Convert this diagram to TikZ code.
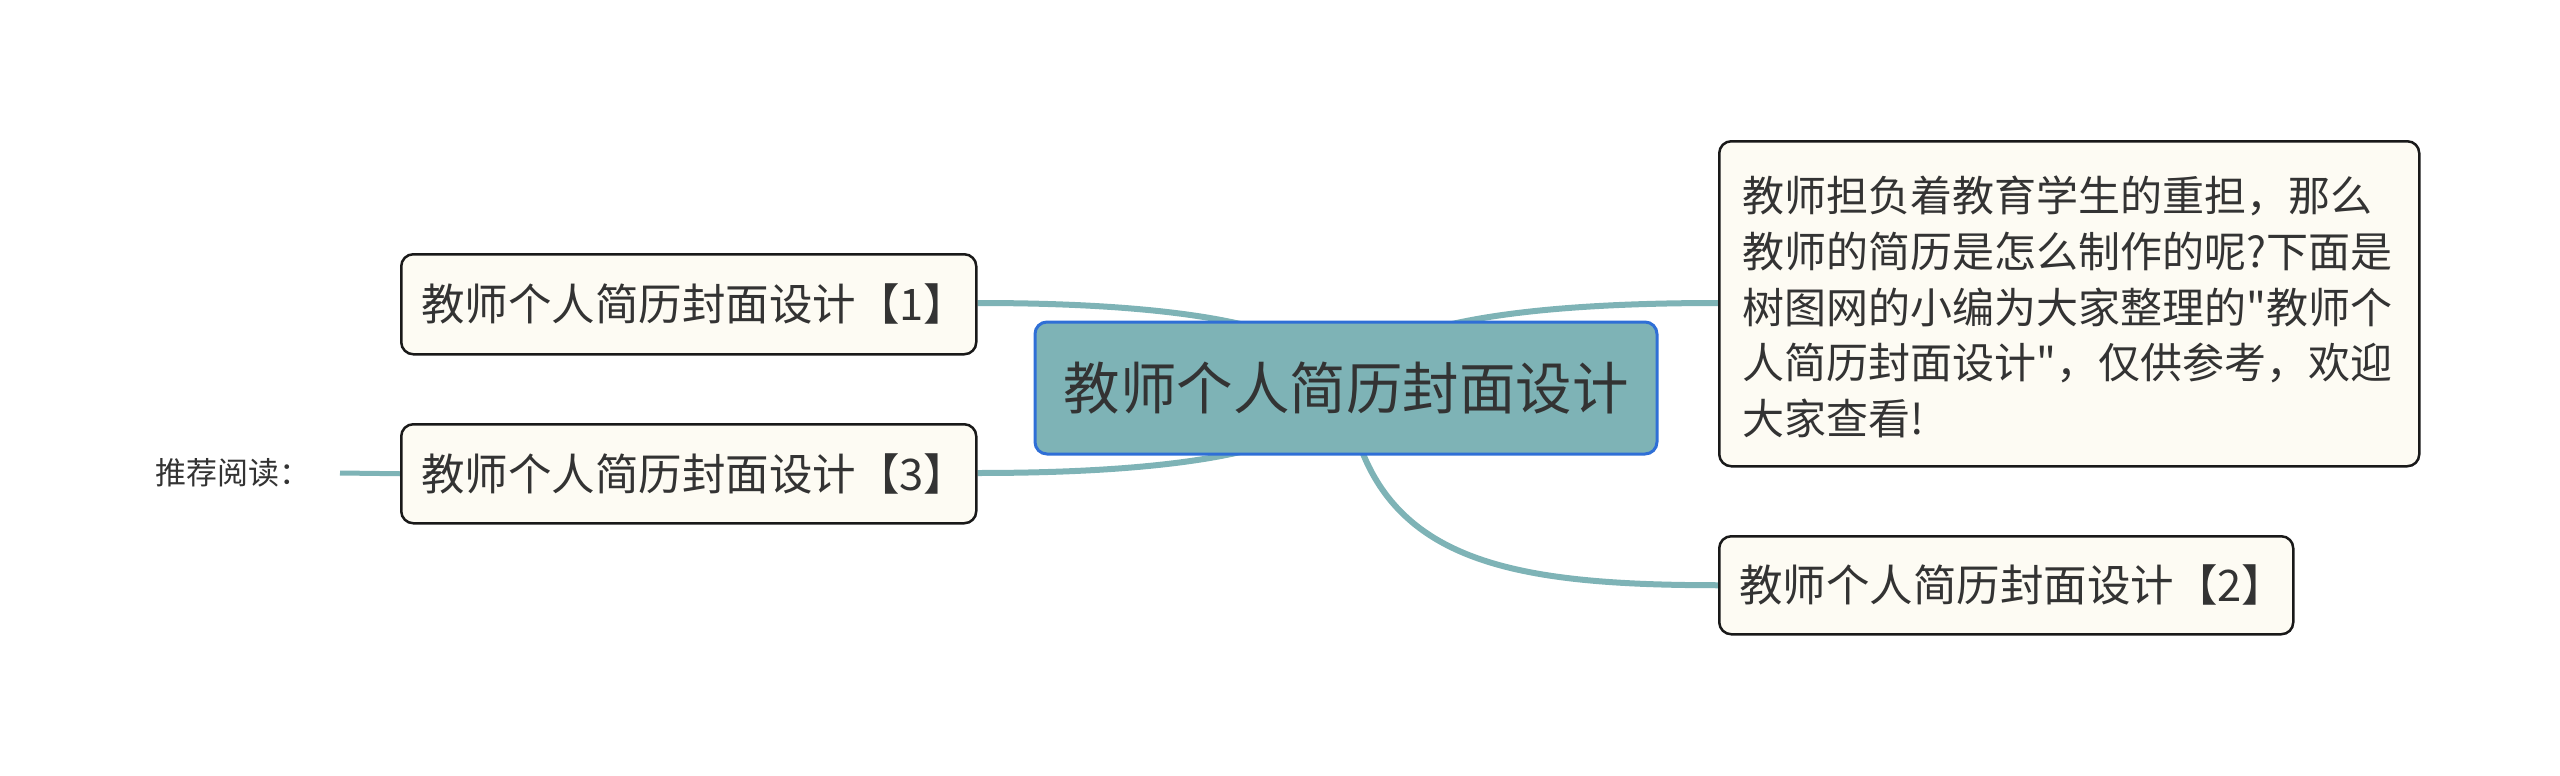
\documentclass[tikz,border=0pt]{standalone}
\usepackage{fontspec}
\setmainfont{Noto Sans CJK SC}[Ligatures=TeXOff]
\usetikzlibrary{backgrounds}
\definecolor{teal1}{HTML}{7EB3B6}
\definecolor{bord}{HTML}{2F6FD6}
\definecolor{cream}{HTML}{FDFBF3}
\definecolor{txt}{HTML}{333333}
\tikzset{
  topic/.style={draw=black!90, line width=2.5pt, fill=cream, rounded corners=12pt, text=txt, inner ysep=0pt, inner xsep=20pt, anchor=north west, align=left},
  link/.style={draw=teal1, line width=6pt},
}
\begin{document}
\begin{tikzpicture}[x=1pt,y=-1pt]
\useasboundingbox (0,0) rectangle (2560,776);
\node[draw=bord, line width=3pt, fill=teal1, rounded corners=12pt, text=txt, minimum width=622pt, minimum height=132pt, inner sep=0pt, font=\fontsize{56.5}{62}\selectfont] (c) at (1346,388) {教师个人简历封面设计};
\node[topic, text width=535pt, minimum height=100pt, font=\fontsize{43.5}{50}\selectfont] (l1) at (400,253) {教师个人简历封面设计【1】};
\node[topic, text width=535pt, minimum height=99pt, font=\fontsize{43.5}{50}\selectfont] (l3) at (400,423) {教师个人简历封面设计【3】};
\node[topic, text width=534pt, minimum height=98pt, font=\fontsize{43.5}{50}\selectfont] (r2) at (1718,535) {教师个人简历封面设计【2】};
\node[topic, minimum width=700pt, minimum height=325pt] (r1) at (1718,140) {};
\node[anchor=north west, inner sep=0pt, text=txt, align=left, font=\fontsize{42}{55.6}\selectfont] (r1t) at (1742,176) {教师担负着教育学生的重担，那么\\教师的简历是怎么制作的呢?下面是\\树图网的小编为大家整理的"教师个\\人简历封面设计"，仅供参考，欢迎\\大家查看!};
\node[anchor=west, inner sep=0pt, text=txt, font=\fontsize{31}{34}\selectfont] (rd) at (155,473) {推荐阅读：};
\coordinate (rdend) at (340,473);
\begin{pgfonlayer}{background}
\draw[link] (l1.east |- 0,303) .. controls (1200,303) and (1330,330) .. (c.center);
\draw[link] (l3.east |- 0,473) .. controls (1200,473) and (1330,446) .. (c.center);
\draw[link] (r1.west |- 0,303) .. controls (1492,303) and (1362,330) .. (c.center);
\draw[link] (r2.west) .. controls (1500,585) and (1370,560) .. (c.center);
\draw[draw=teal1, line width=5pt] (rdend) -- (l3.west);
\end{pgfonlayer}
\end{tikzpicture}
\end{document}
